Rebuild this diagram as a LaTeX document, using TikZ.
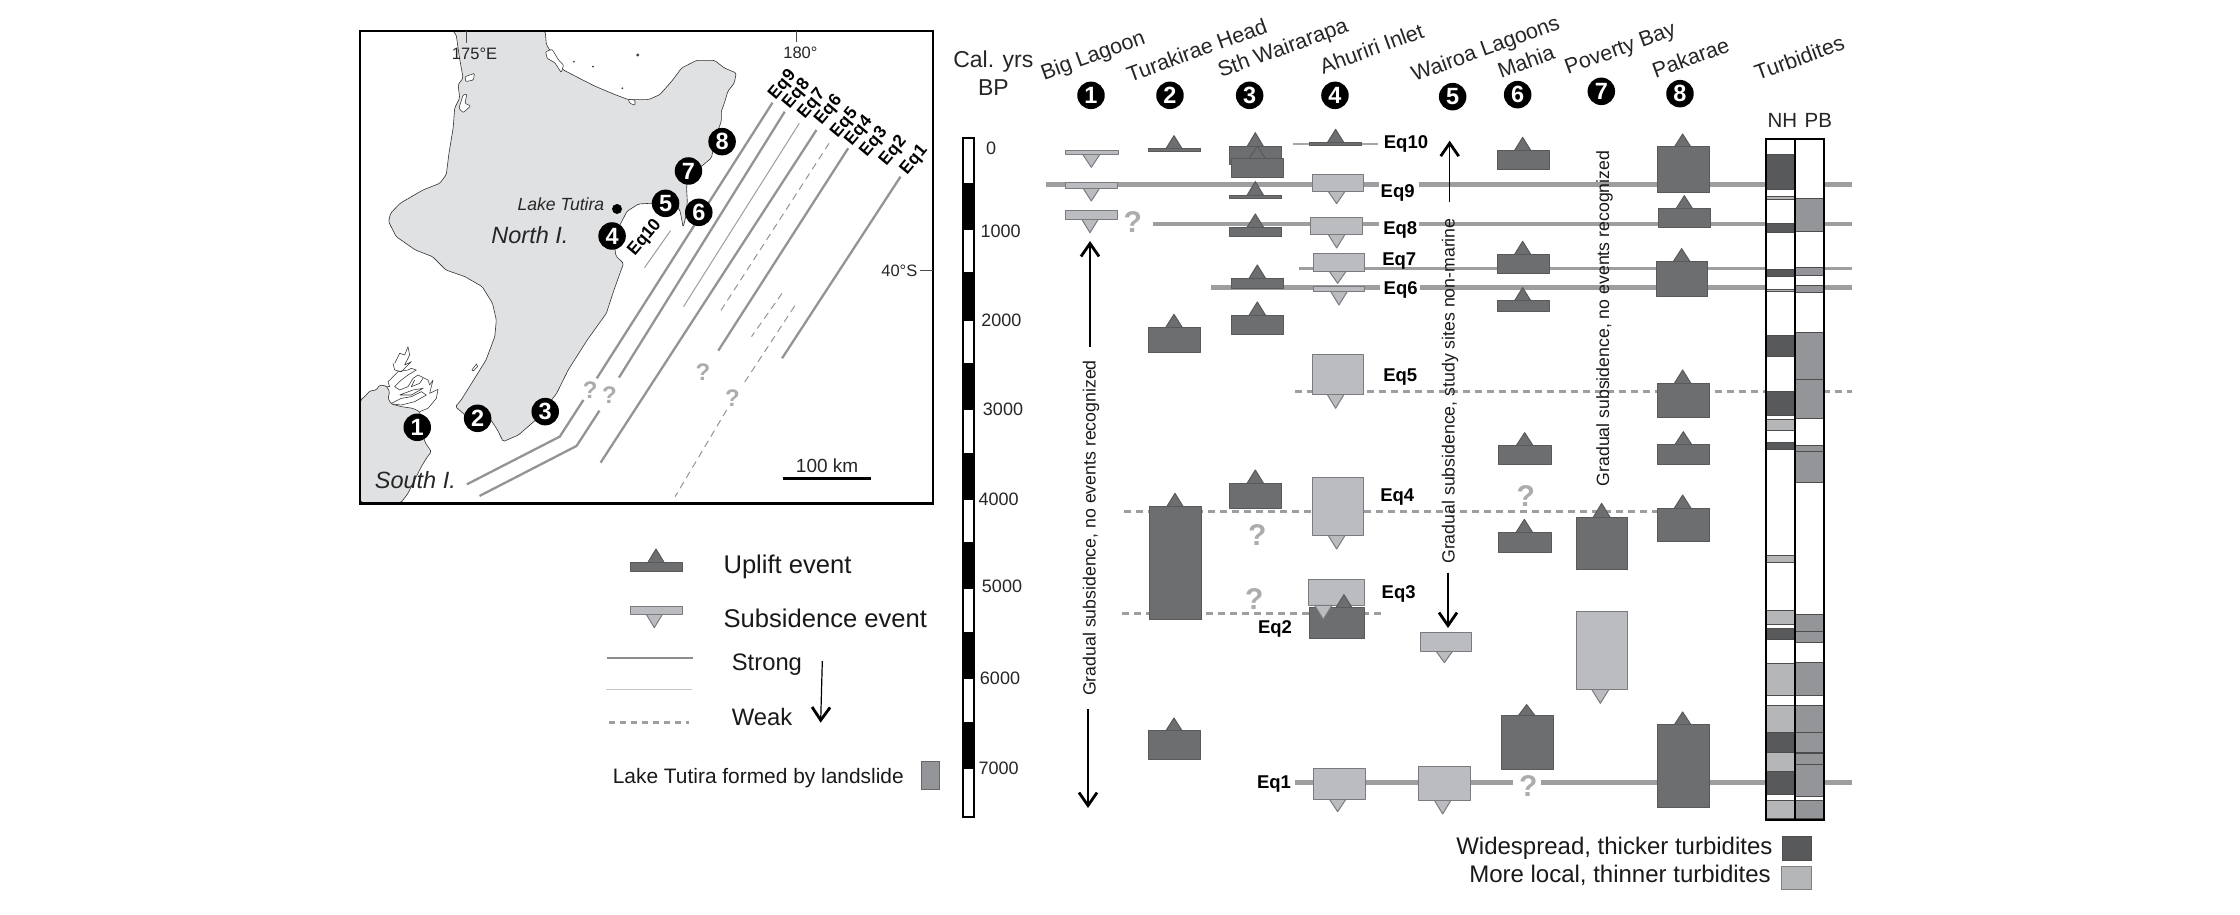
\documentclass[tikz,border=0pt]{standalone}
\usepackage{fontspec}
\setmainfont{Liberation Sans}
\usetikzlibrary{arrows.meta}
\definecolor{upf}{HTML}{6D6E70}
\definecolor{ups}{HTML}{58595B}
\definecolor{subf}{HTML}{BBBCBF}
\definecolor{subs}{HTML}{7A7B7E}
\definecolor{evl}{HTML}{9E9EA0}
\definecolor{qm}{HTML}{ABACAE}
\definecolor{land}{HTML}{E0E1E3}
\definecolor{wide}{HTML}{58595B}
\definecolor{loc}{HTML}{B5B6B8}
\definecolor{pb}{HTML}{939598}
\newcommand{\fs}[1]{\fontsize{#1}{#1}\selectfont}
\newcommand{\upevt}[6]{%
  \filldraw[upbox] (#5-26,#2+2) -- (#5,#6) -- (#5+26,#2+2) -- cycle;
  \filldraw[upbox] (#1,#2) rectangle (#3,#4);}
\newcommand{\subevt}[6]{%
  \filldraw[subbox] (#5-26,#4-2) -- (#5,#6) -- (#5+26,#4-2) -- cycle;
  \filldraw[subbox] (#1,#2) rectangle (#3,#4);}
\newcommand{\nhb}[3]{\filldraw[line width=0.7pt,draw=black!70,fill=#3] (1766,#1) rectangle (1795,#2);}
\newcommand{\pbb}[2]{\filldraw[line width=0.7pt,draw=black!70,fill=pb] (1795,#1) rectangle (1824,#2);}
\tikzset{
  upbox/.style={fill=upf,draw=ups,line width=1pt,line join=round},
  subbox/.style={fill=subf,draw=subs,line width=1pt,line join=round},
  strongev/.style={evl,line width=4.5pt},
  midev/.style={evl,line width=3pt},
  weakev/.style={evl,line width=3pt,dash pattern=on 7pt off 5pt},
  maprup/.style={color=black!42,line width=2.3pt},
  mapthin/.style={color=black!38,line width=1pt},
  mapdash/.style={color=black!42,line width=1pt,dash pattern=on 7pt off 5pt},
  coast/.style={fill=land,draw=black!80,line width=0.6pt,line join=round,rounded corners=1.5pt},
  inlet/.style={black!80,line width=0.55pt,line join=round},
  numc/.style={circle,fill=black,text=white,inner sep=0pt,minimum size=27.5pt,font=\bfseries\fs{23.5}},
  eqlab/.style={font=\bfseries\fs{18.5},inner sep=0pt,yshift=-1.5pt},
  eqmap/.style={font=\bfseries\fs{17.5},inner sep=0pt,rotate=50},
  sitelab/.style={font=\fs{21.5},inner sep=0pt,rotate=20,text=black!85},
  agelab/.style={font=\fs{18},inner sep=0pt,text=black!85},
  qmark/.style={font=\bfseries\fs{30},text=qm,inner sep=0pt},
  vlab/.style={font=\fs{17.7},inner sep=0pt,rotate=90,text=black!90},
  longarrow/.style={line width=1.2pt,black,-{Straight Barb[length=13pt,width=18pt,line width=2.8pt]}},
}
\begin{document}
\begin{tikzpicture}[x=1pt,y=-1pt]
\useasboundingbox (0,0) rectangle (2240,914);
\fill[white] (0,0) rectangle (2240,914);

% ---------- MAP ----------
\begin{scope}[shift={(350.4,20)},x=0.382pt,y=-0.3333pt]
\begin{scope}
\clip (25,33) rectangle (1525,1450);
\filldraw[coast]
 (268,33) -- (277,44) -- (285,110) -- (295,174) -- (282,194) -- (286,234) -- (273,264) -- (269,324) -- (258,400) -- (251,464) -- (234,490) -- (190,510) -- (130,550) -- (105,580) -- (100,605) -- (120,650) -- (170,690) -- (215,710) -- (250,750) -- (300,770) -- (345,800) -- (372,850) -- (382,900) -- (378,950) -- (355,1020) -- (320,1085) -- (290,1140) -- (275,1160) -- (300,1185) -- (365,1195) -- (385,1230) -- (400,1265) -- (440,1245) -- (490,1195) -- (540,1120) -- (570,1050) -- (620,960) -- (670,880) -- (690,810) -- (715,730) -- (695,708) -- (690,664) -- (706,614) -- (724,574) -- (754,552) -- (800,549) -- (850,553) -- (862,569) -- (866,590) -- (871,622) -- (878,590) -- (882,545) -- (880,504) -- (884,464) -- (919,439) -- (945,414) -- (958,344) -- (971,304) -- (971,274) -- (979,249) -- (988,214) -- (1005,189) -- (1010,159) -- (979,144) -- (953,121) -- (906,121) -- (867,144) -- (841,184) -- (810,224) -- (780,239) -- (728,239) -- (693,224) -- (641,199) -- (598,174) -- (556,149) -- (546,129) -- (524,94) -- (513,74) -- (510,34) -- cycle;
\filldraw[inlet,fill=white,rounded corners=1pt] (511,95) -- (528,88) -- (545,120) -- (558,135) -- (552,158) -- (535,128) -- (515,115) -- cycle;
\filldraw[inlet,fill=white,rounded corners=1pt] (727,238) -- (745,240) -- (745,256) -- (732,250) -- cycle;
\filldraw[inlet,fill=white,rounded corners=1pt] (300,170) -- (325,160) -- (322,180) -- (302,185) -- cycle;
\filldraw[inlet,fill=white,rounded corners=1pt] (295,225) -- (305,222) -- (300,250) -- (315,258) -- (295,278) -- (284,265) -- cycle;
\fill[black!75] (752,105) circle (1.6pt) (635,140) circle (1pt) (712,205) circle (1pt) (585,125) circle (1pt);
\filldraw[inlet,fill=white] (318,1050) -- (330,1032) -- (333,1040) -- (322,1053) -- cycle;
\draw[maprup] (1105,248) -- (645,1075);
\draw[maprup,line join=miter] (610,1140) -- (548,1250) -- (305,1393);
\draw[maprup] (1137,275) -- (703,1073);
\draw[maprup,line join=miter] (652,1172) -- (592,1278) -- (338,1428);
\draw[mapthin] (1175,310) -- (872,860);
\draw[maprup] (1220,330) -- (655,1328);
\draw[mapdash] (1253,370) -- (965,880);
\draw[maprup] (1303,385) -- (963,992);
\draw[mapdash] (1130,820) -- (1050,950);
\draw[mapdash] (1163,858) -- (1030,1090);
\draw[mapdash] (985,1170) -- (850,1430);
\draw[maprup] (1440,470) -- (1130,1015);
\draw[mapthin] (838,632) -- (770,743);
\end{scope}
\end{scope}
\begin{scope}[shift={(358,330)},x=0.3333pt,y=-0.3333pt]
\clip (6,0) rectangle (300,517);
\filldraw[coast] (8,210) -- (25,195) -- (35,183) -- (55,180) -- (65,165) -- (85,168) -- (95,185) -- (90,205) -- (100,222) -- (130,230) -- (165,235) -- (185,245) -- (195,300) -- (200,335) -- (220,365) -- (205,385) -- (190,410) -- (170,450) -- (150,490) -- (130,517) -- (8,517) -- cycle;
\draw[inlet] (110,100) -- (125,70) -- (140,75) -- (150,50) -- (155,75) -- (140,105) -- (160,95) -- (130,125) -- (110,120) -- (105,100);
\draw[inlet] (90,155) -- (120,125) -- (150,120) -- (160,115) -- (175,120) -- (150,135) -- (130,150) -- (110,170) -- (125,180) -- (150,170) -- (165,145) -- (180,135) -- (210,150) -- (215,165) -- (225,150) -- (215,190) -- (240,178) -- (235,205) -- (210,235) -- (185,245);
\draw[inlet] (100,220) -- (130,205) -- (160,200) -- (190,185) -- (205,195) -- (170,215) -- (130,225) -- (105,222);
\draw[inlet] (125,195) -- (160,195) -- (195,175) -- (165,180) -- (125,195);
\draw[inlet] (90,155) -- (95,170) -- (85,168);
\draw[inlet] (170,150) -- (160,170) -- (185,160) -- (195,145);
\end{scope}
\begin{scope}[shift={(350.4,20)},x=0.382pt,y=-0.3333pt]
\draw[black,line width=2.6pt] (25,33) rectangle (1525,1450);
\draw[black!70,line width=0.8pt] (303,33) -- (303,70);
\draw[black!70,line width=0.8pt] (1168,33) -- (1168,65);
\draw[black!70,line width=0.8pt] (1490,750) -- (1525,750);
\draw[black,line width=3pt] (1132,1377) -- (1362,1377);
\node[font=\fs{16.5},inner sep=0pt,text=black!85] (lab175) at (325,100) {175°E};
\node[font=\fs{16.5},inner sep=0pt,text=black!85] (lab180) at (1178,97) {180°};
\node[font=\fs{16.5},inner sep=0pt,text=black!85] (lab40) at (1437,752) {40°S};
\node[font=\fs{19},inner sep=0pt,text=black!85] (labkm) at (1248,1337) {100 km};
\node[font=\itshape\fs{17.6},inner sep=0pt,anchor=east,text=black!85] (mtutira) at (665,553) {Lake Tutira};
\node[font=\itshape\fs{23.5},inner sep=0pt,text=black!85] (mnorth) at (470,645) {North I.};
\node[font=\itshape\fs{23.5},inner sep=0pt,text=black!85] (msouth) at (170,1380) {South I.};
\fill[black] (698,567) circle (5pt);
\node[numc] (m1) at (175,1222) {1};
\node[numc] (m2) at (333,1195) {2};
\node[numc] (m3) at (510,1175) {3};
\node[numc] (m4) at (685,648) {4};
\node[numc] (m5) at (825,550) {5};
\node[numc] (m6) at (912,577) {6};
\node[numc] (m7) at (885,453) {7};
\node[numc] (m8) at (973,365) {8};
\node[qmark,font=\bfseries\fs{24}] (mq1) at (628,1110) {?};
\node[qmark,font=\bfseries\fs{24}] (mq2) at (678,1125) {?};
\node[qmark,font=\bfseries\fs{24}] (mq3) at (923,1055) {?};
\node[qmark,font=\bfseries\fs{24}] (mq4) at (1000,1133) {?};
\end{scope}
\node[eqmap] (me9) at (782.7,85) {Eq9};
\node[eqmap] (me8) at (796.7,94) {Eq8};
\node[eqmap] (me7) at (812,104) {Eq7};
\node[eqmap] (me6) at (828.7,110) {Eq6};
\node[eqmap] (me5) at (844.7,123) {Eq5};
\node[eqmap] (me4) at (859,131) {Eq4};
\node[eqmap] (me3) at (874,142) {Eq3};
\node[eqmap] (me2) at (893.3,151) {Eq2};
\node[eqmap] (me1) at (914.3,160) {Eq1};
\node[eqmap] (me10) at (645,238) {Eq10};

% ---------- EVENT LINES ----------
\draw[strongev] (1046,184.7) -- (1379,184.7);
\draw[strongev] (1419,184.7) -- (1852,184.7);
\draw[strongev] (1153,224) -- (1379,224);
\draw[strongev] (1419,224) -- (1852,224);
\draw[midev] (1299,268.3) -- (1852,268.3);
\draw[strongev] (1211,287.3) -- (1380,287.3);
\draw[strongev] (1420,287.3) -- (1852,287.3);
\draw[weakev] (1295,391.3) -- (1852,391.3);
\draw[weakev] (1124,511.7) -- (1657,511.7);
\draw[weakev] (1122,613) -- (1383,613);
\draw[strongev] (1295,782.3) -- (1513,782.3);
\draw[strongev] (1541,782.3) -- (1852,782.3);
\draw[black!35,line width=1.5pt] (1293,144) -- (1378,144);

% ---------- AGE SCALE ----------
\fill[white] (963,138) rectangle (974,817);
\foreach \a/\b in {183/230,272/321,363/410,453/500,542/589,632/679,722/769}
  \fill[black] (963,\a) rectangle (974,\b);
\draw[black,line width=2.6pt] (963,138) rectangle (974,817);

% ---------- EVENTS crop (950,20) ----------
\begin{scope}[shift={(950,20)},x=0.3333pt,y=-0.3333pt]
\subevt{347}{392}{505}{405}{424}{442}
\subevt{347}{488}{503}{505}{424}{543}
\subevt{347}{572}{503}{598}{420}{638}
\upevt{595}{387}{752}{396}{672}{347}
\upevt{595}{922}{752}{997}{672}{883}
\upevt{840}{380}{995}{435}{916}{338}
\upevt{844}{416}{1001}{472}{922}{378}
\upevt{840}{526}{995}{537}{916}{485}
\upevt{840}{622}{995}{651}{916}{582}
\upevt{844}{775}{1001}{805}{922}{735}
\upevt{844}{886}{1001}{943}{922}{846}
\upevt{1080}{368}{1235}{378}{1157}{328}
\subevt{1087}{463}{1241}{515}{1160}{551}
\subevt{1081}{592}{1237}{644}{1160}{684}
\subevt{1090}{700}{1245}{755}{1163}{790}
\subevt{1090}{799}{1245}{815}{1167}{855}
\subevt{1087}{1003}{1241}{1124}{1157}{1165}
\node[sitelab] (sbig) at (430,110) {Big Lagoon};
\node[sitelab] (stur) at (740,90) {Turakirae Head};
\node[sitelab] (ssth) at (1000,88) {Sth Wairarapa};
\node[sitelab] (sahu) at (1265,85) {Ahuriri Inlet};
\node[numc] (c1) at (423,226) {1};
\node[numc] (c2) at (660,226) {2};
\node[numc] (c3) at (899,226) {3};
\node[numc] (c4) at (1155,226) {4};
\node[font=\fs{23},inner sep=0pt,text=black!85] (cal) at (130,125) {Cal. yrs};
\node[font=\fs{23},inner sep=0pt,text=black!85] (bp) at (130,203) {BP};
\node[agelab] (a0) at (123,385) {0};
\node[agelab] (a1) at (152,635) {1000};
\node[agelab] (a2) at (154,900) {2000};
\node[agelab] (a3) at (159,1167) {3000};
\node[eqlab] (e10) at (1368,367) {Eq10};
\node[eqlab] (e9) at (1343,513) {Eq9};
\node[eqlab] (e8) at (1351,625) {Eq8};
\node[eqlab] (e7) at (1348,720) {Eq7};
\node[eqlab] (e6) at (1352,805) {Eq6};
\node[eqlab] (e5) at (1351,1067) {Eq5};
\node[qmark] (q1) at (548,607) {?};
\end{scope}

% ---------- EVENTS crop (950,440) ----------
\begin{scope}[shift={(950,440)},x=0.3333pt,y=-0.3333pt]
\upevt{840}{130}{995}{204}{916}{90}
\upevt{600}{200}{755}{539}{675}{160}
\upevt{595}{873}{752}{958}{672}{834}
\subevt{1087}{111}{1241}{287}{1160}{327}
\filldraw[subbox] (1075,420) rectangle (1245,496);
\upevt{1078}{504}{1245}{597}{1182}{464}
\filldraw[subbox] (1094,496) -- (1120,538) -- (1146,496) -- cycle;
\subevt{1092}{987}{1247}{1078}{1163}{1115}
\node[agelab] (a4) at (146,178) {4000};
\node[agelab] (a5) at (156,440) {5000};
\node[agelab] (a6) at (150,714) {6000};
\node[agelab] (a7) at (146,985) {7000};
\node[eqlab] (e4) at (1342,168) {Eq4};
\node[eqlab] (e3) at (1346,457) {Eq3};
\node[eqlab] (e2) at (975,563) {Eq2};
\node[eqlab] (e1) at (972,1027) {Eq1};
\node[qmark] (q2) at (922,285) {?};
\node[qmark] (q3) at (913,478) {?};
\end{scope}

% ---------- EVENTS crop (1400,20) ----------
\begin{scope}[shift={(1400,20)},x=0.3333pt,y=-0.3333pt]
\upevt{292}{392}{448}{450}{368}{352}
\upevt{292}{704}{448}{761}{368}{664}
\upevt{292}{843}{448}{874}{368}{803}
\upevt{772}{381}{929}{519}{848}{342}
\upevt{777}{566}{932}{623}{853}{527}
\upevt{769}{724}{924}{829}{845}{686}
\upevt{772}{1090}{929}{1193}{848}{1050}
\node[sitelab] (swai) at (258,90) {Wairoa Lagoons};
\node[sitelab] (smah) at (378,125) {Mahia};
\node[sitelab] (spov) at (662,90) {Poverty Bay};
\node[sitelab] (spak) at (872,113) {Pakarae};
\node[sitelab] (stb) at (1198,113) {Turbidites};
\node[numc] (c5) at (158,230) {5};
\node[numc] (c6) at (353,224) {6};
\node[numc] (c7) at (604,214) {7};
\node[numc] (c8) at (840,221) {8};
\node[font=\fs{20.5},inner sep=0pt,text=black!85] (nh) at (1147,300) {NH};
\node[font=\fs{20.5},inner sep=0pt,text=black!85] (pbt) at (1255,300) {PB};
\end{scope}

% ---------- EVENTS crop (1400,440) ----------
\begin{scope}[shift={(1400,440)},x=0.3333pt,y=-0.3333pt]
\upevt{296}{16}{453}{74}{374}{-22}
\upevt{772}{13}{929}{72}{850}{-25}
\upevt{296}{277}{453}{336}{373}{238}
\upevt{529}{231}{683}{390}{605}{190}
\upevt{772}{204}{929}{305}{848}{165}
\subevt{60}{577}{215}{634}{133}{668}
\subevt{529}{514}{683}{750}{601}{790}
\upevt{304}{826}{459}{988}{380}{794}
\upevt{772}{854}{929}{1103}{848}{816}
\subevt{56}{979}{212}{1081}{128}{1122}
\node[qmark] (q4) at (377,168) {?};
\node[qmark] (q5) at (385,1037) {?};
\node[font=\fs{24},inner sep=0pt,anchor=east,text=black!90] (lw) at (1118,1225) {Widespread, thicker turbidites};
\node[font=\fs{24},inner sep=0pt,anchor=east,text=black!90] (ll) at (1113,1307) {More local, thinner turbidites};
\filldraw[fill=wide,draw=black!70,line width=0.7pt] (1147,1190) rectangle (1235,1260);
\filldraw[fill=loc,draw=black!50,line width=0.7pt] (1145,1279) rectangle (1235,1349);
\end{scope}

% ---------- VERTICAL ANNOTATIONS ----------
\node[vlab] (vbig) at (1091,528) {Gradual subsidence, no events recognized};
\node[vlab] (vwai) at (1450,391) {Gradual subsidence, study sites non-marine};
\node[vlab] (vpov) at (1604.5,318.5) {Gradual subsidence, no events recognized};
\coordinate (bigup0) at (1090,347);
\coordinate (bigup1) at (1090,241);
\coordinate (bigdn0) at (1088,709);
\coordinate (bigdn1) at (1088,808);
\coordinate (waiup0) at (1449.7,201.7);
\coordinate (waiup1) at (1449.7,140.7);
\coordinate (waidn0) at (1448,572.7);
\coordinate (waidn1) at (1448,628);
\draw[longarrow] (bigup0) -- (bigup1);
\draw[longarrow] (bigdn0) -- (bigdn1);
\draw[longarrow] (waiup0) -- (waiup1);
\draw[longarrow] (waidn0) -- (waidn1);

% ---------- TURBIDITE COLUMNS ----------
\fill[white] (1766,139) rectangle (1824,820);
\nhb{154.3}{189.3}{wide}
\nhb{196}{199.3}{loc}
\nhb{223.7}{232.7}{wide}
\nhb{269}{276.7}{wide}
\nhb{289.3}{291.7}{loc}
\nhb{335}{356.7}{wide}
\nhb{391.7}{415}{wide}
\nhb{419.3}{430.7}{loc}
\nhb{442.7}{449.3}{wide}
\nhb{555}{562.3}{loc}
\nhb{610}{624.3}{loc}
\nhb{628}{639}{wide}
\nhb{663.3}{695.7}{loc}
\nhb{705.7}{732.3}{loc}
\nhb{732.3}{752.7}{wide}
\nhb{752.7}{771.7}{loc}
\nhb{771.7}{794}{wide}
\nhb{800.7}{818.7}{loc}
\pbb{198.3}{231.3}
\pbb{267}{275.7}
\pbb{285.7}{292.7}
\pbb{332.3}{379.3}
\pbb{379.3}{418.3}
\pbb{445}{451}
\pbb{451}{482.7}
\pbb{614.3}{631.7}
\pbb{631.7}{642.7}
\pbb{662.7}{695.7}
\pbb{705.7}{732.3}
\pbb{732.3}{752.7}
\pbb{753.3}{764}
\pbb{764}{796.7}
\pbb{800}{818.7}
\draw[black,line width=2.6pt] (1766,139) rectangle (1824,820);
\draw[black,line width=2.6pt] (1795,139) -- (1795,820);

% ---------- LEFT LEGEND crop (590,530) ----------
\begin{scope}[shift={(590,530)},x=0.3333pt,y=-0.3333pt]
\upevt{120}{98}{278}{123}{198}{57}
\subevt{120}{228}{278}{252}{193}{293}
\draw[black!45,line width=2.3pt] (52,385) -- (308,385);
\draw[black!22,line width=1pt] (48,480) -- (305,480);
\draw[evl,line width=3pt,dash pattern=on 6pt off 5pt] (58,577) -- (298,577);
\node[font=\fs{25.6},inner sep=0pt,anchor=west,text=black!90] (lup) at (400,110) {Uplift event};
\node[font=\fs{25.6},inner sep=0pt,anchor=west,text=black!90] (lsub) at (400,264) {Subsidence event};
\node[font=\fs{23.8},inner sep=0pt,anchor=west,text=black!90] (lstr) at (425,403) {Strong};
\node[font=\fs{23.8},inner sep=0pt,anchor=west,text=black!90] (lwk) at (425,560) {Weak};
\node[font=\fs{20.9},inner sep=0pt,anchor=west,text=black!90] (llt) at (68,745) {Lake Tutira formed by landslide};
\coordinate (la0) at (697,393);
\coordinate (la1) at (692,578);
\draw[longarrow] (la0) -- (la1);
\filldraw[fill=pb,draw=black!60,line width=0.7pt] (994,695) rectangle (1047,778);
\end{scope}
\end{tikzpicture}
\end{document}
